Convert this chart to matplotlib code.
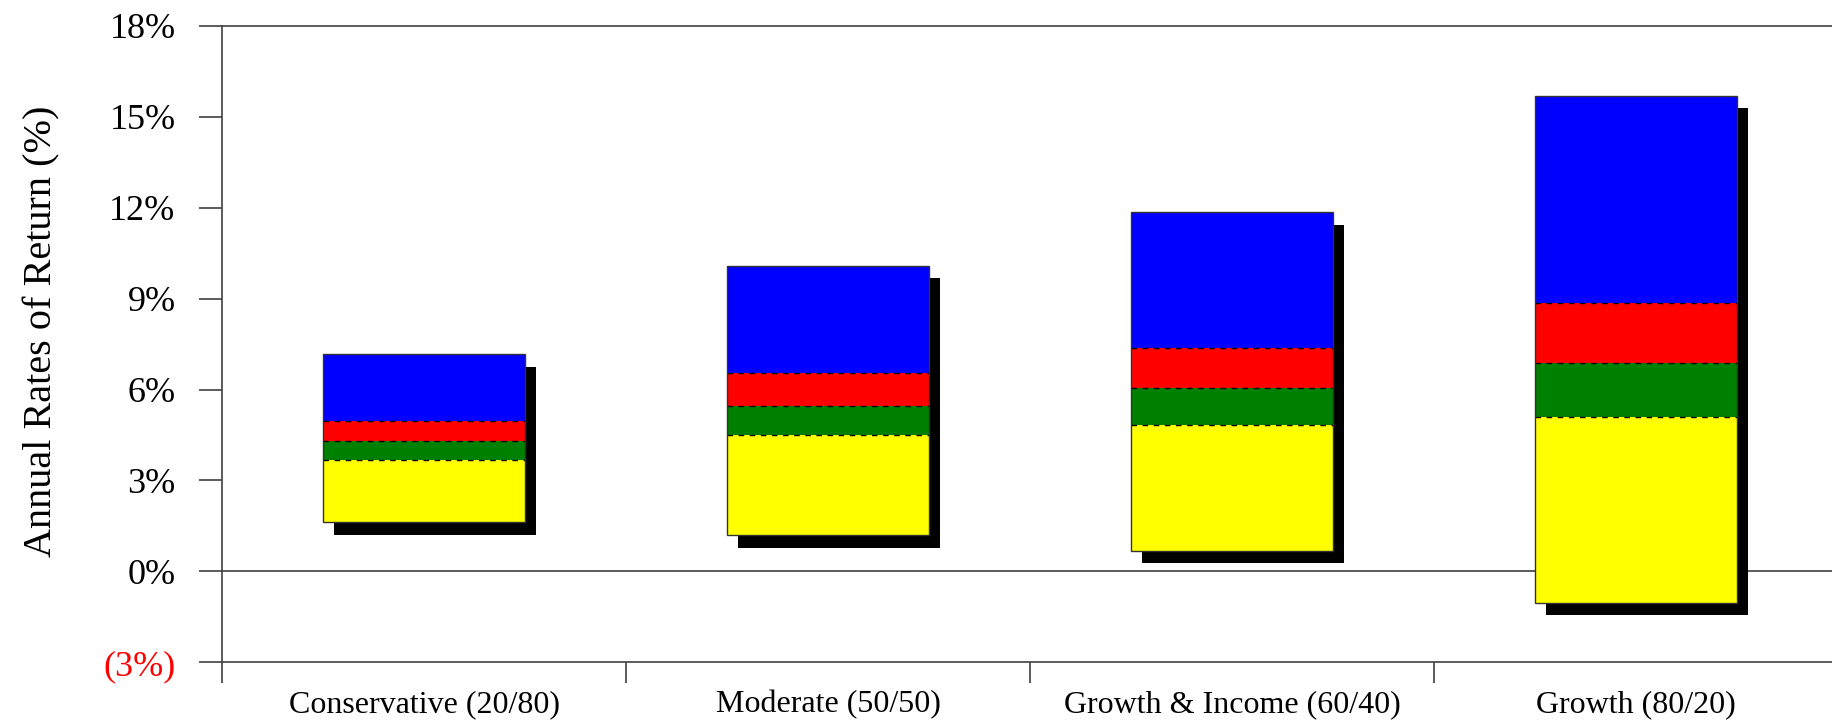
import numpy as np
import matplotlib.pyplot as plt
from matplotlib.patches import Rectangle

plt.rcParams['font.family'] = ['Liberation Serif', 'DejaVu Serif']

# Portfolios and the return ranges for each band (percent)
portfolios = ['Conservative (20/80)', 'Moderate (50/50)', 'Growth & Income (60/40)', 'Growth (80/20)']
low = [1.62, 1.19, 0.69, -1.03]
yellow_top = [3.67, 4.49, 4.82, 5.09]
green_top = [4.29, 5.46, 6.04, 6.88]
red_top = [4.95, 6.53, 7.38, 8.87]
high = [7.16, 10.09, 11.85, 15.68]

band_colors = ['#ffff00', '#008000', '#ff0000', '#0000ff']

y_ticks = [-3, 0, 3, 6, 9, 12, 15, 18]
y_labels = ['(3%)', '0%', '3%', '6%', '9%', '12%', '15%', '18%']

bar_w = 0.5
shadow_dx = 0.028
shadow_dy = 0.41
axis_grey = '#404040'

fig = plt.figure(figsize=(18.32, 7.2), dpi=100)
ax = fig.add_axes([0.1212, 0.08, 0.8788, 0.8843])

for i in range(len(portfolios)):
    x0 = i - bar_w / 2
    edges = [low[i], yellow_top[i], green_top[i], red_top[i], high[i]]
    # drop shadow
    ax.add_patch(Rectangle((x0 + shadow_dx, low[i] - shadow_dy), bar_w, high[i] - low[i],
                           facecolor='black', edgecolor='none', zorder=2))
    for k in range(4):
        ax.add_patch(Rectangle((x0, edges[k]), bar_w, edges[k + 1] - edges[k],
                               facecolor=band_colors[k], edgecolor='none', zorder=3))
    ax.hlines(edges[1:4], x0, x0 + bar_w, colors='black', linestyles=(0, (4, 4)),
              linewidth=1.0, zorder=4)
    ax.add_patch(Rectangle((x0, low[i]), bar_w, high[i] - low[i],
                           facecolor='none', edgecolor='#333333', linewidth=1.0, zorder=5))

ax.axhline(0, color=axis_grey, linewidth=1.2, zorder=1)

ax.set_xlim(-0.5, 3.485)
ax.set_ylim(-3, 18)

ax.set_yticks(y_ticks)
ax.set_yticklabels(y_labels, fontsize=26)
ax.get_yticklabels()[0].set_color('red')
ax.tick_params(axis='y', direction='out', length=16.5, width=1.2, color=axis_grey, pad=17)

ax.set_xticks(range(len(portfolios)))
ax.set_xticklabels(portfolios, fontsize=23)
ax.tick_params(axis='x', which='major', length=0, pad=20)
ax.set_xticks(np.arange(-0.5, 3, 1.0), minor=True)
ax.tick_params(axis='x', which='minor', direction='out', length=15, width=1.2, color=axis_grey)

for side in ['left', 'bottom', 'top']:
    ax.spines[side].set_color(axis_grey)
    ax.spines[side].set_linewidth(1.2)
ax.spines['right'].set_visible(False)

fig.text(42 / 1832, 0.54, 'Annual Rates of Return (%)', rotation=90, fontsize=29,
         ha='center', va='center')

fig.savefig('out.png', dpi=100)
